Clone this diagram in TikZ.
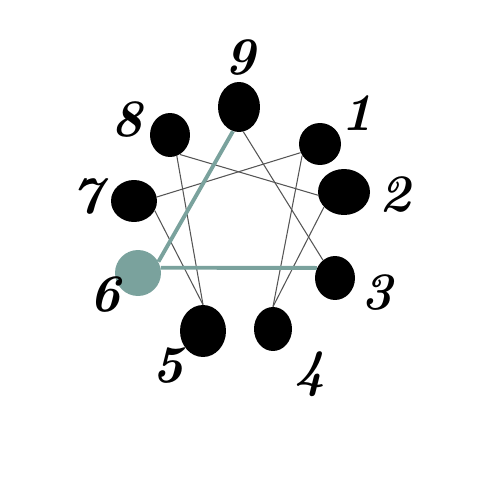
\documentclass[tikz,border=0pt]{standalone}
\usepackage{tikz}
\usetikzlibrary{shapes.geometric, positioning}
\definecolor{Verde}{RGB}{122, 162, 157}
\definecolor{Gris}{RGB}{85, 85, 85}

\begin{document}
\begin{tikzpicture}[x=0.02cm, y=-0.02cm,
        punto/.style={ellipse, fill=black, inner sep=0pt},
        numero/.style={font=\fontsize{30}{32}\selectfont\bfseries\itshape},
        linea/.style={draw=Gris, line width=0.6pt},
        eje/.style={draw=Verde, line width=2.2pt}
    ]
        \useasboundingbox (0,0) rectangle (500,500);

        % ================= PUNTOS =================
        \node[punto, minimum width=0.84cm, minimum height=1.00cm] (p9) at (239,107) {};
        \node[punto, minimum width=0.80cm, minimum height=0.88cm] (p8) at (170,135) {};
        \node[punto, minimum width=0.84cm, minimum height=0.84cm] (p1) at (320,144) {};
        \node[punto, minimum width=0.92cm, minimum height=0.84cm] (p7) at (134,201) {};
        \node[punto, minimum width=1.04cm, minimum height=0.92cm] (p2) at (344,192) {};
        \node[punto, fill=Verde, minimum width=0.92cm, minimum height=0.92cm] (p6) at (138,273) {};
        \node[punto, minimum width=0.80cm, minimum height=0.88cm] (p3) at (335,278) {};
        \node[punto, minimum width=0.92cm, minimum height=1.04cm] (p5) at (203,331) {};
        \node[punto, minimum width=0.76cm, minimum height=0.88cm] (p4) at (273,329) {};

        % ================= LINEAS =================
        \draw[linea] (p1.-147) -- (p4.90);
        \draw[linea] (p4.90) -- (p2.-143);
        \draw[linea] (p2.-173) -- (p8.-63);
        \draw[linea] (p8.-72) -- (p5.90);
        \draw[linea] (p5.90) -- (p7.-25);
        \draw[linea] (p7.10) -- (p1.-156);
        \draw[linea] (p9.-80) -- (p3.124);

        % Triangulo del 6
        \draw[eje] (p9.-104) -- (p6.29);
        \draw[eje] (p6.13) -- (p3.151);

        % ================= NUMEROS =================
        \node[numero] (n9) at (240,58) {9};
        \node[numero] (n8) at (127,120) {8};
        \node[numero] (n1) at (357,113) {1};
        \node[numero] (n7) at (87,197) {7};
        \node[numero] (n2) at (395,195) {2};
        \node[numero] (n6) at (105,295) {6};
        \node[numero] (n3) at (377,293) {3};
        \node[numero] (n5) at (168,366) {5};
        \node[numero] (n4) at (310,374) {4};
    \end{tikzpicture}
\end{document}
